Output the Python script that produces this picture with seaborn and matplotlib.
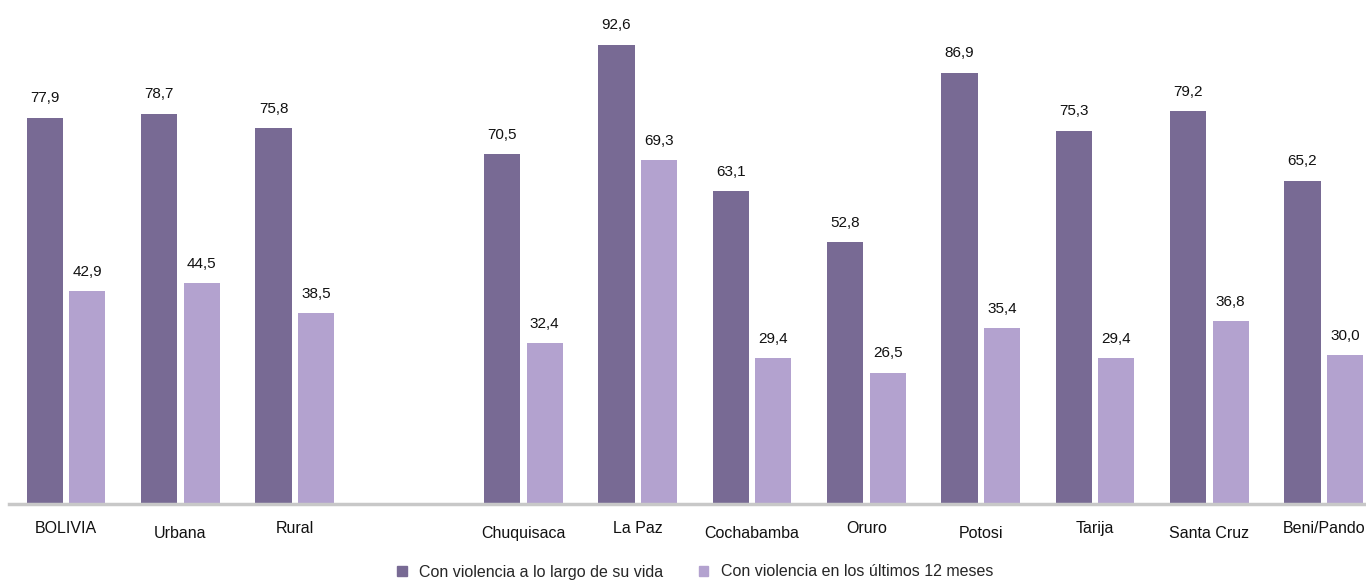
import numpy as np
import pandas as pd
import matplotlib
matplotlib.use("Agg")
import matplotlib.pyplot as plt
import seaborn as sns
from matplotlib import font_manager

categorias = ['BOLIVIA', 'Urbana', 'Rural', ' ', 'Chuquisaca', 'La Paz', 'Cochabamba',
              'Oruro', 'Potosi', 'Tarija', 'Santa Cruz', 'Beni/Pando']
vida = [77.9, 78.7, 75.8, np.nan, 70.5, 92.6, 63.1, 52.8, 86.9, 75.3, 79.2, 65.2]
ultimos = [42.9, 44.5, 38.5, np.nan, 32.4, 69.3, 29.4, 26.5, 35.4, 29.4, 36.8, 30.0]
series = ['Con violencia a lo largo de su vida', 'Con violencia en los últimos 12 meses']

df = pd.DataFrame({'cat': categorias * 2,
                   'serie': [series[0]] * len(categorias) + [series[1]] * len(categorias),
                   'valor': vida + ultimos})

sns.set_style("white")
nombres = [f.name for f in font_manager.fontManager.ttflist]
fuente = 'Liberation Sans Narrow' if 'Liberation Sans Narrow' in nombres else 'Liberation Sans'
plt.rcParams['font.family'] = [fuente, 'DejaVu Sans']

fig = plt.figure(figsize=(13.66, 5.83), dpi=100)
ax = fig.add_axes([9 / 1366, 79 / 583, 1357 / 1366, 496 / 583])

colores = ['#786A94', '#B3A2CF']
sns.barplot(data=df, x='cat', y='valor', hue='serie', order=categorias, hue_order=series,
            palette=colores, width=0.744, gap=0.15, ax=ax, legend=False, saturation=1,
            linewidth=0)

for cont in ax.containers:
    ax.bar_label(cont, labels=[('' if np.isnan(v) else f'{v:.1f}'.replace('.', ','))
                               for v in cont.datavalues],
                 padding=9, fontsize=11, color='#111111')

ax.set_xlim(-0.5, 11.37)
ax.set_ylim(0, 100)
ax.set_xlabel('')
ax.set_ylabel('')
ax.set_yticks([])
for s in ['top', 'right', 'left']:
    ax.spines[s].set_visible(False)
ax.spines['bottom'].set_color('#C8C8C8')
ax.spines['bottom'].set_linewidth(2.5)
ax.tick_params(axis='x', length=0, pad=12, labelsize=11.5, labelcolor='#111111')

# etiquetas un poco escalonadas como en el original
for i, t in enumerate(ax.get_xticklabels()):
    if i in (1, 4, 6, 8, 10):
        t.set_y(-0.01)

handles = [plt.Rectangle((0, 0), 1, 1, color=c) for c in colores]
fig.legend(handles, series, loc='center', bbox_to_anchor=(0.509, 11 / 583), ncol=2,
           frameon=False, fontsize=11.5, handlelength=0.6, handleheight=0.6,
           columnspacing=2.2, handletextpad=0.8, borderaxespad=0, borderpad=0)

fig.savefig('out.png', dpi=100)
